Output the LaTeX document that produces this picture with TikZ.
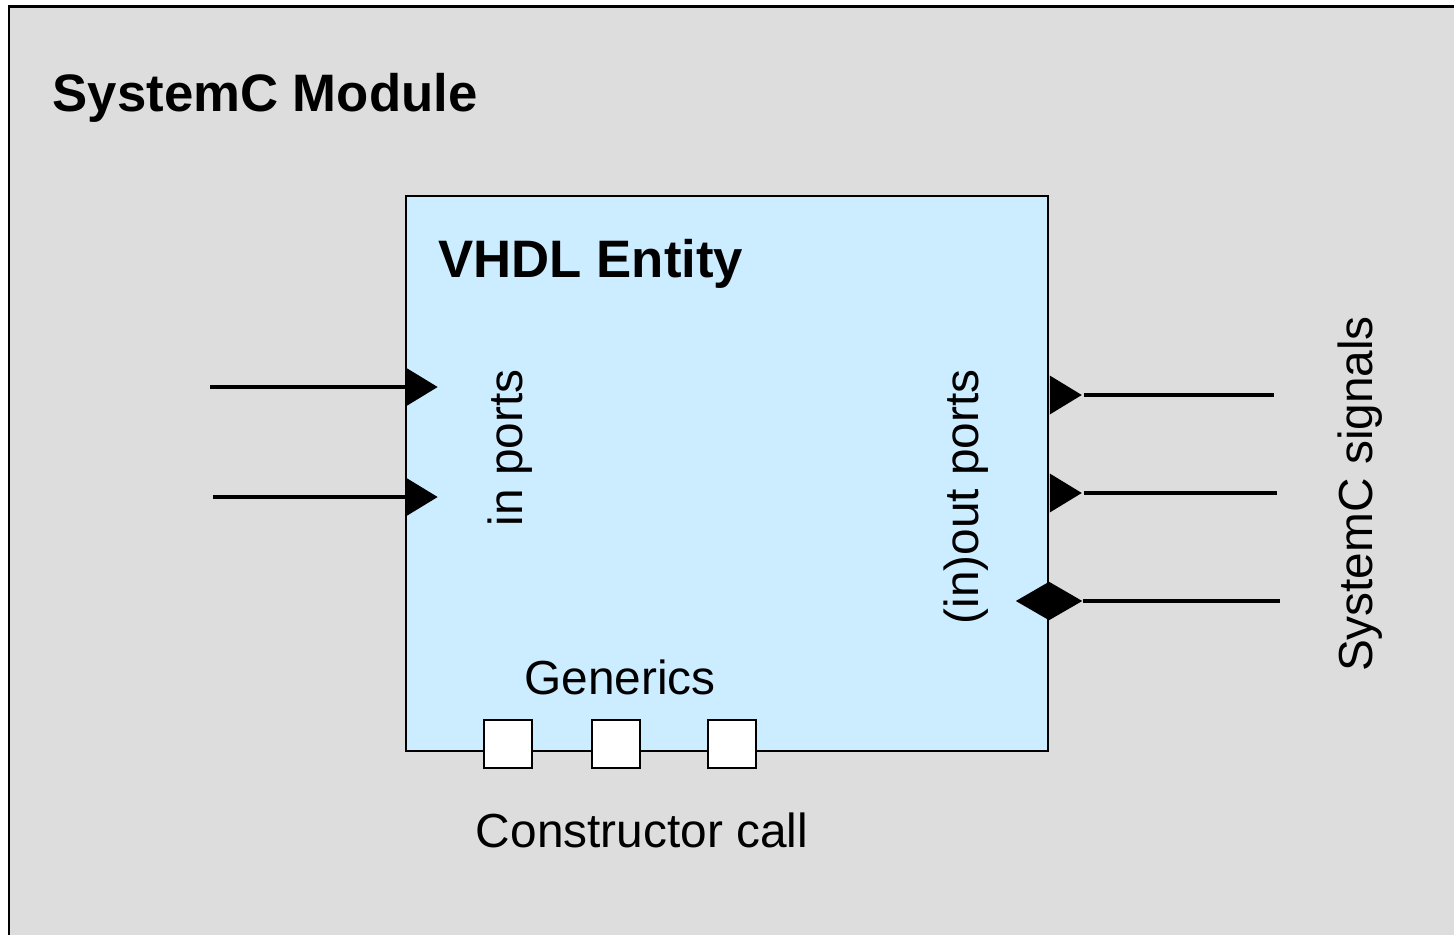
\documentclass[tikz,border=0pt]{standalone}
\usepackage{fontspec}
\setmainfont{Liberation Sans}
\usepackage{tikz}
\usetikzlibrary{arrows.meta,calc,positioning,shapes.geometric}
\usepackage{xcolor}
\definecolor{modgray}{RGB}{221,221,221}
\definecolor{entblue}{RGB}{204,236,255}

\begin{document}
\begin{tikzpicture}[
    head/.style={font=\fontsize{15}{18}\selectfont\bfseries,inner sep=0pt},
    lab/.style={font=\fontsize{13.6}{16}\selectfont,inner sep=0pt},
    sig/.style={line width=1pt,black},
    inport/.style={isosceles triangle,isosceles triangle stretches,fill=black,minimum height=.32cm,minimum width=.39cm,inner sep=0pt,anchor=lower side},
    ioport/.style={diamond,fill=black,minimum width=.67cm,minimum height=.39cm,inner sep=0pt},
    gen/.style={rectangle,draw=black,fill=white,line width=.7pt,minimum size=.48cm,inner sep=0pt},
    entity/.style={rectangle,draw=black,fill=entblue,line width=.6pt,minimum width=6.42cm,minimum height=5.55cm,inner sep=0pt}
  ]
    \useasboundingbox (0,0) rectangle (14.54,-9.35);
    \clip (0,0) rectangle (14.54,-9.35);
    \draw[fill=modgray,line width=.7pt] (.09,-.065) rectangle (14.8,-9.6);
    \node[head,anchor=west] (mod) at (.52,-.98) {SystemC Module};
    \node[entity] (ent) at (7.27,-4.735) {};
    \node[head,anchor=west] (vhdl) at (4.38,-2.64) {VHDL Entity};
    % in ports
    \coordinate (i1) at (2.10,-3.87); \coordinate (i2) at (2.13,-4.97);
    \foreach \s/\n in {i1/p1,i2/p2} {
      \coordinate (\n) at (ent.west |- \s);
      \draw[sig] (\s)--(\n);
      \node[inport] at (\n) {};
    }
    \node[lab,rotate=90] (inp) at (5.10,-4.48) {in ports};
    % out and inout ports
    \coordinate (o1) at (12.74,-3.95); \coordinate (o2) at (12.77,-4.93); \coordinate (o3) at (12.80,-6.01);
    \foreach \s/\n in {o1/q1,o2/q2} {
      \node[inport] (\n) at (ent.east |- \s) {};
      \draw[sig] (\n.apex)--(\s);
    }
    \node[ioport] (q3) at (ent.east |- o3) {};
    \draw[sig] (q3.east)--(o3);
    \node[lab,rotate=90] (outp) at (9.66,-4.97) {(in)out ports};
    \node[lab,rotate=90] (sigs) at (13.60,-4.94) {SystemC signals};
    % generics
    \node[lab] (genl) at (6.20,-6.77) {Generics};
    \foreach \x/\n in {5.08/g1,6.16/g2,7.32/g3} {\node[gen] (\n) at (\x,-7.44) {};}
    \node[lab] (ctor) at (6.42,-8.30) {Constructor call};
  \end{tikzpicture}
\end{document}
